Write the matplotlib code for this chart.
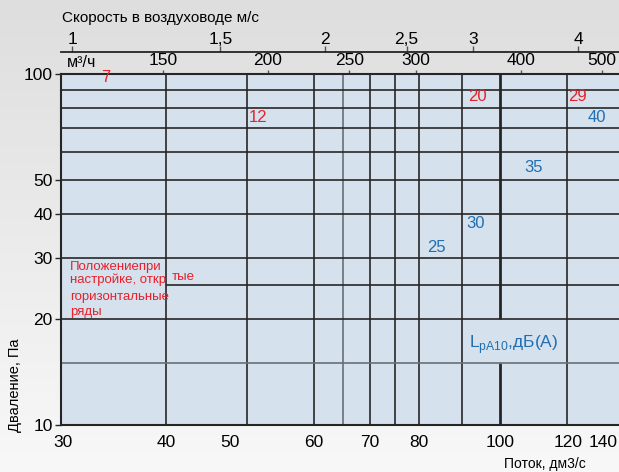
import matplotlib
matplotlib.use('Agg')
import matplotlib.pyplot as plt
import numpy as np

plt.rcParams['font.family'] = ['Liberation Sans', 'DejaVu Sans']

# ---- data ----
flow_tick_pos = [30.2, 40, 47.7, 60, 70, 80, 100, 120.5, 132.5]
flow_tick_labels = ['30', '40', '50', '60', '70', '80', '100', '120', '140']
pressure_ticks = [10, 20, 30, 40, 50, 100]
pressure_labels = ['10', '20', '30', '40', '50', '100']
v_grid = [40, 50, 60, 70, 75, 80, 90, 120]
v_grid_light = [65]
h_grid = [20, 30, 40, 50, 60, 70, 80, 90]
h_grid_light = [15]
m3h_ticks = [150, 200, 250, 300, 400, 500]
vel_ticks = [1, 1.5, 2, 2.5, 3, 4]
vel_labels = ['1', '1,5', '2', '2,5', '3', '4']
m3h_per_flow = 3.78
flow_per_vel = 30.95

red_labels = ['7', '12', '20', '29']
red_flow = [33.9, 51.5, 93.9, 123.6]
red_press = [97.7, 75.4, 86.0, 86.0]
blue_labels = ['40', '35', '30', '25']
blue_flow = [130.4, 109.6, 93.4, 84.0]
blue_press = [75.4, 54.0, 37.4, 32.1]

note_lines = ['Положениепри', 'настройке, откр', 'горизонтальные', 'ряды']
note_press = [28.2, 25.9, 23.2, 21.0]

xmin, xmax = 30, 138.5
ymin, ymax = 10, 100

RED = '#e8212b'
BLUE = '#1f6fb2'
GRID = '#262626'

fig = plt.figure(figsize=(6.19, 4.72), dpi=100)

# gradient background
bg = fig.add_axes([0, 0, 1, 1], zorder=-10)
grad = np.linspace(0, 1, 256).reshape(-1, 1)
top_c = np.array([222, 222, 222]) / 255
bot_c = np.array([248, 248, 248]) / 255
img = top_c[None, None, :] * (1 - grad[:, :, None]) + bot_c[None, None, :] * grad[:, :, None]
bg.imshow(img, aspect='auto', extent=[0, 1, 0, 1])
bg.axis('off')

ax = fig.add_axes([61 / 619, 47 / 472, 1 - 61 / 619, 351 / 472])
ax.set_facecolor('#d5e1ed')
ax.set_xscale('log')
ax.set_yscale('log')
ax.set_xlim(xmin, xmax)
ax.set_ylim(ymin, ymax)

# grid
ax.vlines(v_grid, ymin, ymax, colors=GRID, lw=1.2, zorder=1)
ax.vlines(v_grid_light, ymin, ymax, colors='#6a6e74', lw=1.2, zorder=1)
ax.vlines([100, 100], [ymin, 20], [15, ymax], colors=GRID, lw=2.0, zorder=1)
ax.hlines(h_grid, xmin, xmax, colors=GRID, lw=1.2, zorder=1)
ax.hlines(h_grid_light, xmin, xmax, colors='#6a6e74', lw=1.2, zorder=1)
ax.hlines([25], 40, xmax, colors=GRID, lw=1.2, zorder=1)

ax.spines['right'].set_visible(False)
for s in ['left', 'top', 'bottom']:
    ax.spines[s].set_color(GRID)
    ax.spines[s].set_linewidth(1.5)

ax.xaxis.set_minor_locator(matplotlib.ticker.NullLocator())
ax.yaxis.set_minor_locator(matplotlib.ticker.NullLocator())
ax.set_xticks(flow_tick_pos)
ax.set_xticklabels(flow_tick_labels)
ax.set_yticks(pressure_ticks)
ax.set_yticklabels(pressure_labels)
ax.tick_params(axis='x', length=0, pad=7, labelsize=12.5)
ax.tick_params(axis='y', length=4, width=1, pad=2, labelsize=12.5, color=GRID)

# top m3/h axis
sec1 = ax.secondary_xaxis('top', functions=(lambda q: q * m3h_per_flow, lambda m: m / m3h_per_flow))
sec1.set_xticks(m3h_ticks)
sec1.xaxis.set_minor_locator(matplotlib.ticker.NullLocator())
sec1.set_xticklabels([str(t) for t in m3h_ticks])
sec1.tick_params(length=3, width=1, pad=1, labelsize=12.5, color='#555555')
sec1.spines['top'].set_visible(False)

# velocity axis
sec2 = ax.secondary_xaxis(1 + 21.5 / 351, functions=(lambda q: q / flow_per_vel, lambda v: v * flow_per_vel))
sec2.set_xticks(vel_ticks)
sec2.xaxis.set_minor_locator(matplotlib.ticker.NullLocator())
sec2.set_xticklabels(vel_labels)
sec2.tick_params(length=4, width=1, pad=0, labelsize=12.5, color='#555555')
sec2.spines['top'].set_color('#222222')
sec2.spines['top'].set_linewidth(1.3)

ax.text(0.01, 1.034, 'м³/ч', transform=ax.transAxes, fontsize=11.5, ha='left', va='center')
fig.text(62 / 619, 1 - 18 / 472, 'Скорость в воздуховоде м/с', fontsize=11, ha='left', va='center')

# labels
fig.text(15 / 619, 1 - 385 / 472, 'Дваление, Па', rotation=90, fontsize=10.5, ha='center', va='center')
fig.text(545 / 619, 1 - 464 / 472, 'Поток, дм3/с', fontsize=10, ha='center', va='center')

# noise labels
for t, q, p in zip(red_labels, red_flow, red_press):
    ax.text(q, p, t, color=RED, fontsize=12, ha='center', va='center', zorder=3)
for t, q, p in zip(blue_labels, blue_flow, blue_press):
    ax.text(q, p, t, color=BLUE, fontsize=12, ha='center', va='center', zorder=3)
ax.text(103.8, 16.9, r'L$_{\mathregular{pA10}}$,дБ(A)', color=BLUE, fontsize=12.5, ha='center', va='center', zorder=3)

for t, p in zip(note_lines, note_press):
    ax.text(30.74, p, t, color=RED, fontsize=9.5, ha='left', va='center', zorder=3)
ax.text(40.6, 26.4, 'тые', color=RED, fontsize=9.5, ha='left', va='center', zorder=3)

fig.savefig('out.png', dpi=100)
